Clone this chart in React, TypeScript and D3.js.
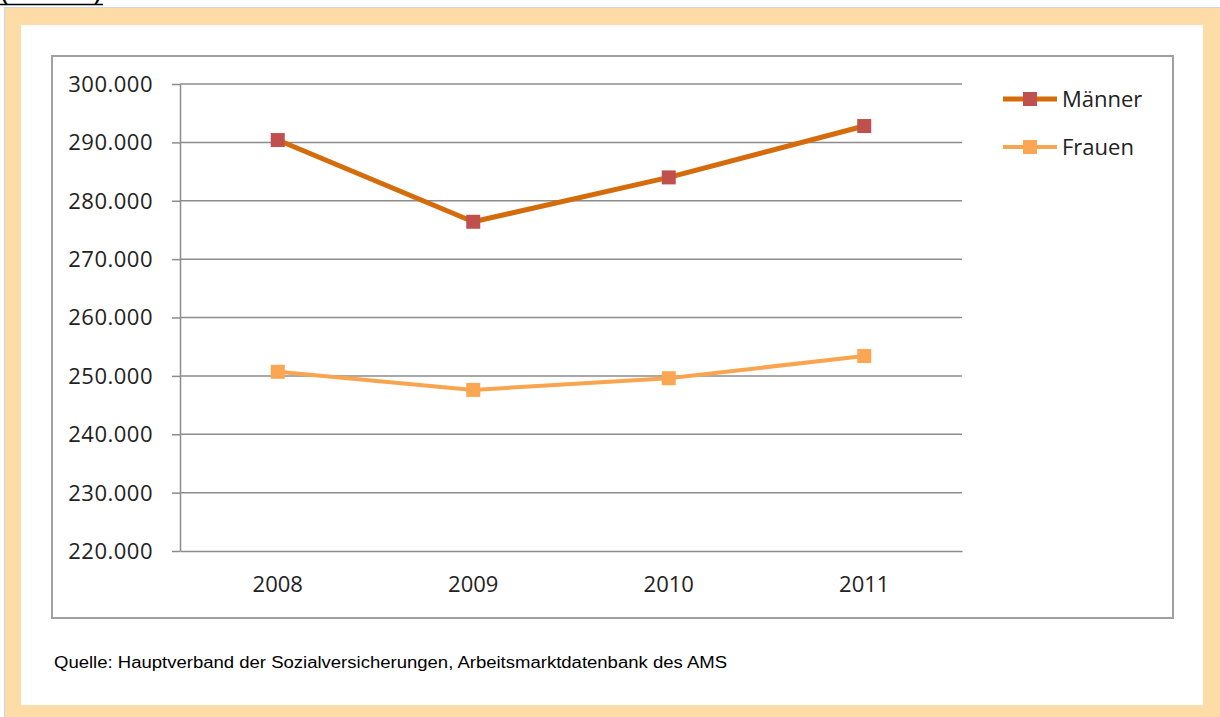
import React, { useEffect, useRef } from "react";
import * as d3 from "d3";

const years = ["2008", "2009", "2010", "2011"];
const maenner = [290400, 276400, 284000, 292800];
const frauen = [250700, 247600, 249600, 253400];
const yTicks = [220000, 230000, 240000, 250000, 260000, 270000, 280000, 290000, 300000];
const seriesNames = ["Männer", "Frauen"];

const W = 1220;
const H = 717;
const FONT = "Open Sans";

const App = () => {
  const svgRef = useRef<SVGSVGElement>(null);

  useEffect(() => {
    const svg = d3.select(svgRef.current);
    svg.selectAll("*").remove();

    // frame
    svg.append("rect").attr("x", 4.5).attr("y", 7.5).attr("width", W - 4).attr("height", H - 7)
      .attr("fill", "#FDDCA8").attr("stroke", "#D4D4DC").attr("stroke-width", 1);
    svg.append("rect").attr("x", 21).attr("y", 25).attr("width", 1182).attr("height", 680).attr("fill", "#fff");

    // top caption, mostly cut off like in the page
    svg.append("text").attr("x", 0).attr("y", 0).attr("font-family", FONT).attr("font-size", 30)
      .attr("fill", "#000").text("(Grafik)");
    svg.append("line").attr("x1", 0).attr("x2", 103).attr("y1", 4.5).attr("y2", 4.5).attr("stroke", "#000").attr("stroke-width", 1.5);

    // chart box
    svg.append("rect").attr("x", 52).attr("y", 56).attr("width", 1121).attr("height", 562)
      .attr("fill", "#fff").attr("stroke", "#a0a0a0").attr("stroke-width", 2);

    const left = 180, right = 962, top = 84, bottom = 551;
    const x = d3.scaleBand().domain(years).range([left, right]);
    const y = d3.scaleLinear().domain([220000, 300000]).range([bottom, top]);

    // grid
    svg.append("g").selectAll("line").data(yTicks.slice(1)).join("line")
      .attr("x1", left).attr("x2", right)
      .attr("y1", d => y(d)).attr("y2", d => y(d))
      .attr("stroke", "#8c8c8c").attr("stroke-width", 1.5);

    // y axis
    const yAxis = d3.axisLeft(y).tickValues(yTicks).tickSize(8).tickSizeOuter(0)
      .tickFormat(d => `${Math.round(+d / 1000)}.000`);
    const ya = svg.append("g").attr("transform", `translate(${left},0)`).call(yAxis);
    ya.select(".domain").attr("stroke", "#8c8c8c").attr("stroke-width", 1.5);
    ya.selectAll(".tick line").attr("stroke", "#8c8c8c").attr("stroke-width", 1.5);
    ya.selectAll(".tick text").attr("x", -27).attr("font-family", FONT).attr("font-size", 22)
      .attr("letter-spacing", 0.5).attr("fill", "#222").attr("dy", "0.34em");

    // x axis
    const xAxis = d3.axisBottom(x).tickSize(0).tickSizeOuter(0);
    const xa = svg.append("g").attr("transform", `translate(0,${bottom})`).call(xAxis);
    xa.select(".domain").attr("stroke", "#8c8c8c").attr("stroke-width", 1.5);
    xa.selectAll(".tick text").attr("y", 34).attr("dy", "0.34em").attr("font-family", FONT)
      .attr("font-size", 22).attr("fill", "#222");

    const cx = (d: string) => (x(d) as number) + x.bandwidth() / 2;
    const series = [
      { name: seriesNames[0], values: maenner, line: "#D46C0C", marker: "#C0504D", width: 5 },
      { name: seriesNames[1], values: frauen, line: "#F9A54F", marker: "#FBA653", width: 4 },
    ];
    const lineGen = d3.line<number>().x((_, i) => cx(years[i])).y(d => y(d));
    series.forEach(s => {
      svg.append("path").attr("d", lineGen(s.values)).attr("fill", "none")
        .attr("stroke", s.line).attr("stroke-width", s.width).attr("stroke-linejoin", "round");
      svg.append("g").selectAll("rect").data(s.values).join("rect")
        .attr("x", (_, i) => cx(years[i]) - 7).attr("y", d => y(d) - 7)
        .attr("width", 14).attr("height", 14).attr("fill", s.marker);
    });

    // legend
    series.forEach((s, i) => {
      const ly = 99 + i * 48;
      svg.append("line").attr("x1", 1003).attr("x2", 1057).attr("y1", ly).attr("y2", ly)
        .attr("stroke", s.line).attr("stroke-width", s.width);
      svg.append("rect").attr("x", 1023).attr("y", ly - 7).attr("width", 14).attr("height", 14).attr("fill", s.marker);
      svg.append("text").attr("x", 1062).attr("y", ly).attr("dy", "0.36em").attr("font-family", FONT)
        .attr("font-size", 22).attr("fill", "#222").text(s.name);
    });

    // source
    svg.append("text").attr("x", 54).attr("y", 668).attr("font-family", "Liberation Sans").attr("font-size", 16)
      .attr("fill", "#000").attr("textLength", 673).attr("lengthAdjust", "spacingAndGlyphs")
      .text("Quelle: Hauptverband der Sozialversicherungen, Arbeitsmarktdatenbank des AMS");
  }, []);

  return (
    <svg ref={svgRef} width={W} height={H} style={{ position: "absolute", left: 0, top: 0, background: "#fff" }} />
  );
};

export default App;
